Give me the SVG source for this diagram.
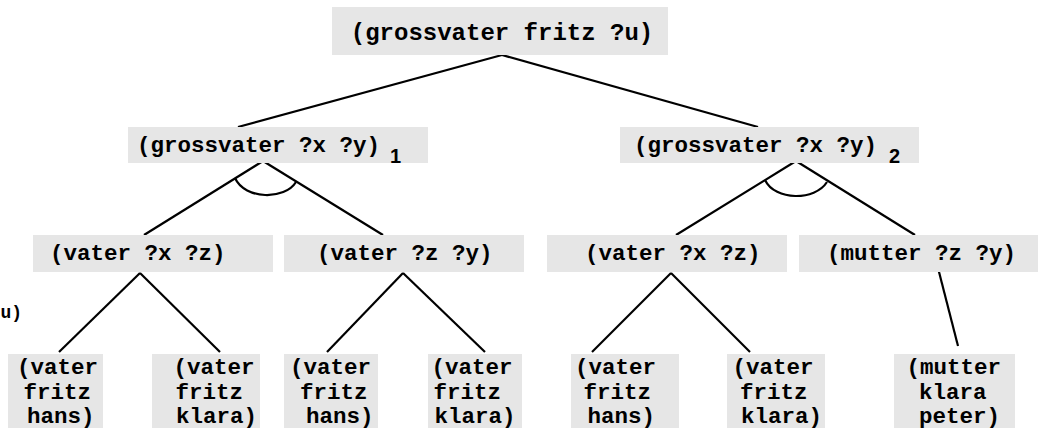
<svg xmlns="http://www.w3.org/2000/svg" width="1044" height="428" viewBox="0 0 1044 428">
<style>
.box{fill:#e6e6e6}
.t{font-family:"Liberation Mono","Courier New",monospace;font-weight:bold;font-size:22.5px;fill:#000}
.top{font-size:24px}
.sub{font-family:"Liberation Sans",Arial,sans-serif;font-weight:bold;font-size:20px;fill:#000}
.e{stroke:#000;stroke-width:2.2;fill:none}
</style>
<rect width="1044" height="428" fill="#fff"/>
<g id="connectors">
<line class="e" x1="502" y1="55" x2="238" y2="127"/>
<line class="e" x1="502" y1="55" x2="758" y2="127"/>
<line class="e" x1="263" y1="161" x2="144" y2="235"/>
<line class="e" x1="263" y1="161" x2="383" y2="235"/>
<path class="e" d="M235,178 C245,200 285,200 296,182"/>
<line class="e" x1="796" y1="161" x2="676" y2="235"/>
<line class="e" x1="796" y1="161" x2="915" y2="235"/>
<path class="e" d="M765,180 C775,201 815,201 827,182"/>
<line class="e" x1="140" y1="273" x2="59" y2="352"/>
<line class="e" x1="140" y1="273" x2="220" y2="352"/>
<line class="e" x1="403" y1="273" x2="327" y2="352"/>
<line class="e" x1="403" y1="273" x2="485" y2="352"/>
<line class="e" x1="671" y1="273" x2="592" y2="352"/>
<line class="e" x1="671" y1="273" x2="750" y2="352"/>
<line class="e" x1="938" y1="268" x2="958" y2="346"/>
</g>
<g id="root">
<rect class="box" x="332" y="7" width="336" height="48"/>
<text class="t top" x="502" y="40" text-anchor="middle">(grossvater fritz ?u)</text>
</g>
<g id="gv1">
<rect class="box" x="128" y="127" width="300" height="36"/>
<text class="t" x="137" y="152">(grossvater ?x ?y)</text>
<text class="sub" x="390" y="163">1</text>
</g>
<g id="gv2">
<rect class="box" x="620" y="127" width="299" height="36"/>
<text class="t" x="634" y="152">(grossvater ?x ?y)</text>
<text class="sub" x="889" y="163">2</text>
</g>
<g id="v1">
<rect class="box" x="33" y="235" width="240" height="37"/>
<text class="t" x="50" y="260">(vater ?x ?z)</text>
</g>
<g id="v2">
<rect class="box" x="284" y="235" width="240" height="37"/>
<text class="t" x="317" y="260">(vater ?z ?y)</text>
</g>
<g id="v3">
<rect class="box" x="547" y="235" width="240" height="37"/>
<text class="t" x="585" y="260">(vater ?x ?z)</text>
</g>
<g id="m4">
<rect class="box" x="799" y="235" width="239" height="37"/>
<text class="t" x="827" y="260">(mutter ?z ?y)</text>
</g>
<g id="frag">
<text class="t" style="font-size:18px" x="0.5" y="318">u)</text>
</g>
<g id="leaf1">
<rect class="box" x="8" y="354" width="95" height="74"/>
<text class="t" x="17" y="374">(vater</text>
<text class="t" x="23.5" y="399">fritz</text>
<text class="t" x="27" y="423">hans)</text>
</g>
<g id="leaf2">
<rect class="box" x="152" y="354" width="108" height="74"/>
<text class="t" x="173.5" y="374">(vater</text>
<text class="t" x="175.5" y="399">fritz</text>
<text class="t" x="176" y="423">klara)</text>
</g>
<g id="leaf3">
<rect class="box" x="284" y="354" width="94" height="74"/>
<text class="t" x="290" y="374">(vater</text>
<text class="t" x="300" y="399">fritz</text>
<text class="t" x="306" y="423">hans)</text>
</g>
<g id="leaf4">
<rect class="box" x="428" y="354" width="94" height="74"/>
<text class="t" x="431.5" y="374">(vater</text>
<text class="t" x="433.5" y="399">fritz</text>
<text class="t" x="434.5" y="423">klara)</text>
</g>
<g id="leaf5">
<rect class="box" x="571" y="354" width="108" height="74"/>
<text class="t" x="575" y="374">(vater</text>
<text class="t" x="583.5" y="399">fritz</text>
<text class="t" x="587.5" y="423">hans)</text>
</g>
<g id="leaf6">
<rect class="box" x="727" y="354" width="98" height="74"/>
<text class="t" x="732.5" y="374">(vater</text>
<text class="t" x="740" y="399">fritz</text>
<text class="t" x="741" y="423">klara)</text>
</g>
<g id="leaf7">
<rect class="box" x="894" y="354" width="121" height="74"/>
<text class="t" x="906.5" y="374">(mutter</text>
<text class="t" x="919" y="399">klara</text>
<text class="t" x="919" y="423">peter)</text>
</g>
</svg>
